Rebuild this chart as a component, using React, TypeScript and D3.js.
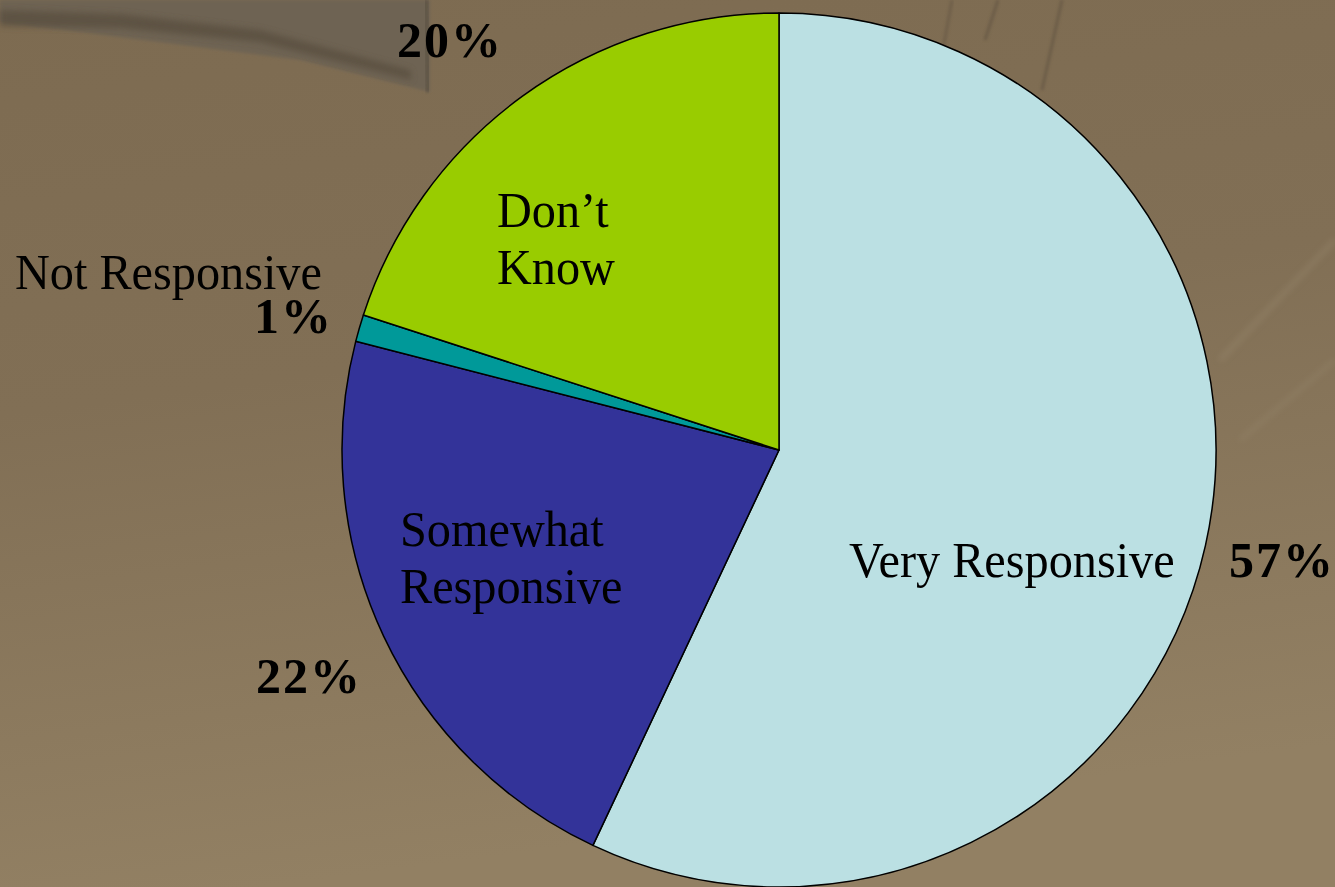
import React from "react";
import * as d3 from "d3";

const categories = ["Very Responsive", "Somewhat Responsive", "Not Responsive", "Don\u2019t Know"];
const values = [57, 22, 1, 20];
const percentLabels = ["57%", "22%", "1%", "20%"];
const colors = ["#BBE0E3", "#333399", "#009999", "#99CC00"];

const W = 1335;
const H = 887;
const CX = 779;
const CY = 450;
const R = 437;

// label layout (name lines + percent), positions in page pixels
const nameLayout = [
  { x: 849, y: 577, lines: ["Very Responsive"] },
  { x: 400, y: 546, lines: ["Somewhat", "Responsive"] },
  { x: 15, y: 289, lines: ["Not Responsive"] },
  { x: 497, y: 227, lines: ["Don\u2019t", "Know"] },
];
const pctLayout = [
  { x: 1229, y: 577 },
  { x: 256, y: 693 },
  { x: 254, y: 333 },
  { x: 397, y: 57 },
];

export default function App() {
  const pie = d3.pie<number>().sort(null).startAngle(0).endAngle(2 * Math.PI);
  const arcs = pie(values);
  const arc = d3.arc<d3.PieArcDatum<number>>().innerRadius(0).outerRadius(R);
  const font = "'Liberation Serif', 'Times New Roman', serif";
  return (
    <svg
      width={W}
      height={H}
      style={{ position: "fixed", left: 0, top: 0, display: "block" }}
    >
      <defs>
        <linearGradient id="bg" x1="0" y1="0" x2="0.2" y2="1">
          <stop offset="0" stopColor="#7D6B51" />
          <stop offset="0.45" stopColor="#816F55" />
          <stop offset="1" stopColor="#928063" />
        </linearGradient>
        <filter id="blur" x="-20%" y="-50%" width="140%" height="200%">
          <feGaussianBlur stdDeviation="3" />
        </filter>
        <filter id="blur2" x="-20%" y="-50%" width="140%" height="200%">
          <feGaussianBlur stdDeviation="1.5" />
        </filter>
      </defs>
      <rect x={0} y={0} width={W} height={H} fill="url(#bg)" />
      <path d="M0,0 L430,0 L430,92 L300,60 L0,22 Z" fill="#6E6353" filter="url(#blur2)" />
      <path
        d="M0,10 L120,14 L260,30 L410,70 L412,80 L260,42 L120,28 L0,26 Z"
        fill="#5A4F40"
        opacity={0.8}
        filter="url(#blur)"
      />
      <path d="M426,0 L428,92" stroke="#615647" strokeWidth={5} filter="url(#blur2)" />
      <path d="M952,0 L942,55" stroke="#5F5140" strokeWidth={3} opacity={0.5} filter="url(#blur2)" />
      <path d="M998,0 L985,40" stroke="#5F5140" strokeWidth={3} opacity={0.6} filter="url(#blur2)" />
      <path d="M1062,0 L1042,90" stroke="#5F5140" strokeWidth={3} opacity={0.6} filter="url(#blur2)" />
      <path d="M1335,240 L1220,360" stroke="#9A8A70" strokeWidth={4} opacity={0.5} filter="url(#blur)" />
      <path d="M1335,360 L1240,440" stroke="#9A8A70" strokeWidth={4} opacity={0.4} filter="url(#blur)" />
      <g transform={`translate(${CX},${CY})`}>
        {arcs.map((a, i) => (
          <path key={categories[i]} d={arc(a) || ""} fill={colors[i]} stroke="#000" strokeWidth={1.5} strokeLinejoin="round" />
        ))}
      </g>
      <g fontFamily={font} fill="#000">
        {nameLayout.map((n, i) => (
          <text key={categories[i]} transform={`translate(${n.x},${n.y}) scale(0.965,1)`} fontSize={50}>
            {n.lines.map((l, j) => (
              <tspan key={j} x={0} y={j * 57}>
                {l}
              </tspan>
            ))}
          </text>
        ))}
        {pctLayout.map((p, i) => (
          <text key={percentLabels[i]} x={p.x} y={p.y} fontSize={50} fontWeight="bold" letterSpacing={2}>
            {percentLabels[i]}
          </text>
        ))}
      </g>
    </svg>
  );
}
